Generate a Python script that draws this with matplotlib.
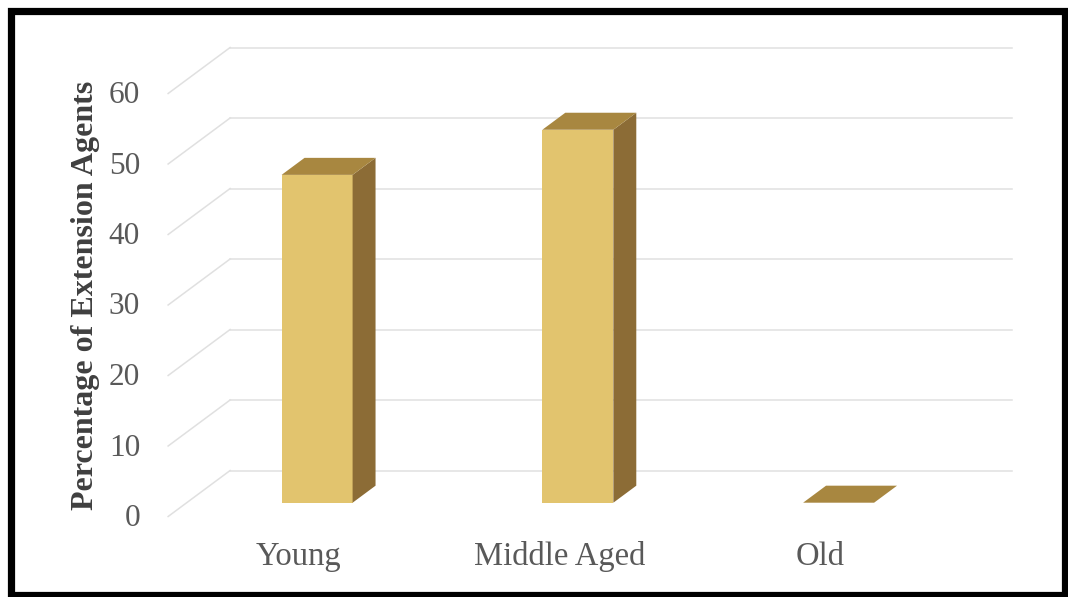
import numpy as np
import matplotlib
matplotlib.use("Agg")
import matplotlib.pyplot as plt
from matplotlib.patches import Polygon, Rectangle

plt.rcParams["font.family"] = ["Liberation Serif", "DejaVu Serif"]

# data
categories = ["Young", "Middle Aged", "Old"]
values = [46.5, 52.9, 0.0]
y_ticks = [0, 10, 20, 30, 40, 50, 60]
y_label = "Percentage of Extension Agents"

# colours
front_col = "#E2C46E"
side_col = "#8C6C36"
top_col = "#A88740"
grid_col = "#E0E0E0"

W, H = 1068, 597
fig = plt.figure(figsize=(W / 100, H / 100), dpi=100)
ax = fig.add_axes([0, 0, 1, 1])

# back wall plane: category i -> pixel 360.5 + 260.75*i, value v -> pixel 470.5 - 7.05*v
px_cat = 260.75
px_val = 7.05
ax.set_xlim(-360.5 / px_cat, (W - 360.5) / px_cat)
ax.set_ylim(-(H - 470.5) / px_val, 470.5 / px_val)
ax.axis("off")

# oblique depth (back wall -> floor front)
DX = -62 / px_cat
DY = -46 / px_val
d_front, d_back = 0.70, 0.33
bar_w = 71 / px_cat

# walls
for v in y_ticks:
    ax.plot([-0.5, 2.5], [v, v], color=grid_col, lw=1.1, zorder=1)
    ax.plot([-0.5, -0.5 + DX], [v, v + DY], color=grid_col, lw=1.1, zorder=1)
    ax.annotate(str(v), xy=(-0.5 + DX, v + DY), xytext=(-28, -2),
                textcoords="offset pixels", ha="right", va="center",
                fontsize=22.5, color="#595959")

# bars
for i, (cat, v) in enumerate(zip(categories, values)):
    xl_f = i + d_front * DX - bar_w / 2
    xr_f = xl_f + bar_w
    xl_b = i + d_back * DX - bar_w / 2
    xr_b = xl_b + bar_w
    yf = d_front * DY
    yb = d_back * DY
    if v > 0:
        ax.add_patch(Rectangle((xl_f, yf), bar_w, v, fc=front_col, ec="none", zorder=3))
        ax.add_patch(Polygon([(xr_f, yf), (xr_f, yf + v), (xr_b, yb + v), (xr_b, yb)],
                             closed=True, fc=side_col, ec="none", zorder=3))
    ax.add_patch(Polygon([(xl_f, yf + v), (xr_f, yf + v), (xr_b, yb + v), (xl_b, yb + v)],
                         closed=True, fc=top_col, ec="none", zorder=4))
    ax.annotate(cat, xy=(i + DX, DY), xytext=(0, -40), textcoords="offset pixels",
                ha="center", va="center", fontsize=23.5, color="#595959")

fig.text(86 / W, 1 - 295 / H, y_label, rotation=90, ha="center", va="center",
         fontsize=23, fontweight="bold", color="#3F3F3F")

# outer frame
fig.patches.append(Rectangle((10.5 / W, 2.5 / H), 1054 / W, 584 / H,
                             transform=fig.transFigure, fill=False,
                             ec="black", lw=5.2))

fig.savefig("out.png", dpi=100)
